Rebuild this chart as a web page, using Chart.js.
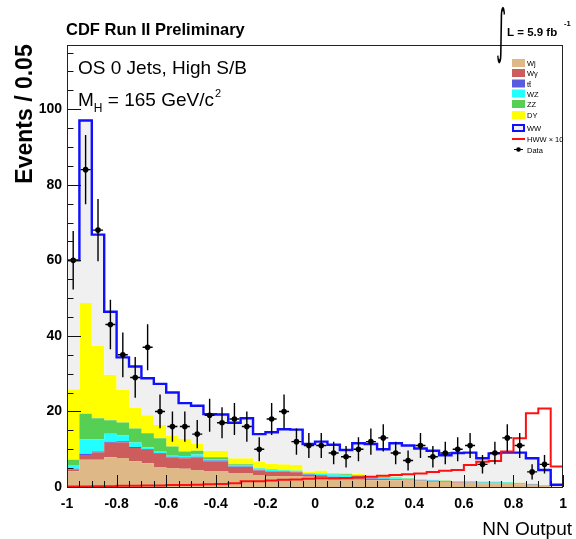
<!DOCTYPE html>
<html>
<head>
<meta charset="utf-8">
<script src="https://cdn.jsdelivr.net/npm/chart.js@4.4.1/dist/chart.umd.min.js"></script>
<style>
  html, body { margin: 0; padding: 0; background: #ffffff; }
  #wrap { position: relative; width: 576px; height: 539px; }
</style>
</head>
<body>
<div id="wrap"><canvas id="c" width="576" height="539"></canvas></div>
<script>
// NN output histogram: 40 bins of width 0.05 between -1 and 1
const xMin = -1;
const binWidth = 0.05;

// Background expectations per bin (events), stacked bottom to top
const wjets  = [4.2,7.2,7.2,7.9,7.7,6.8,6.3,5.3,5.0,4.8, 4.5,4.1,4.1,3.6,3.6,3.2,2.9,2.9,2.9,2.7, 2.6,1.9,1.9,1.9,1.8,1.8,1.8,1.7,1.5,1.4, 1.3,1.1,1.1,1.0,1.0,0.9,0.7,0.5,0.3,0.05];
const wgamma = [0.4,1.3,1.9,3.8,4.1,3.5,3.5,3.5,2.8,2.8, 3.3,2.7,2.7,1.7,1.7,1.2,1.1,1.1,1.0,0.5, 0.5,0.7,0.6,0.5,0.4,0.3,0.2,0.2,0.2,0.2, 0.15,0.15,0.1,0.1,0.1,0.1,0.1,0.1,0.1,0.05];
const ttbar  = [0.2,0.3,0.3,0.3,0.3,0.3,0.2,0.2,0.2,0.2, 0.2,0.2,0.2,0.1,0.1,0.1,0.1,0.1,0.1,0.1, 0.1,0.1,0.1,0.1,0.1,0.1,0.1,0.1,0.05,0.05, 0.05,0.05,0.05,0.05,0.05,0.05,0.05,0.05,0.02,0.0];
const wz     = [1.0,3.8,3.2,2.1,1.5,1.2,0.5,0.5,0.3,0.4, 0.6,0.4,0.4,0.4,0.4,0.4,0.4,0.3,0.3,0.3, 0.3,0.6,0.6,0.5,0.3,0.2,0.2,0.2,0.15,0.15, 0.1,0.1,0.15,0.15,0.15,0.15,0.15,0.1,0.08,0.02];
const zz     = [1.4,6.8,5.6,3.6,3.5,3.7,3.7,3.4,2.4,1.2, 1.0,0.5,0.5,0.2,0.2,0.1,0.1,0.1,0.1,0.1, 0.1,0.2,0.2,0.2,0.2,0.2,0.2,0.1,0.1,0.1, 0.1,0.1,0.1,0.1,0.1,0.1,0.1,0.1,0.05,0.02];
const dy     = [18.7,29.3,19.1,12.0,8.6,5.5,4.8,3.5,2.8,3.4, 1.8,1.7,1.7,1.6,1.6,1.7,1.5,1.5,1.5,0.4, 0.8,0.3,0.3,0.3,0.3,0.3,0.3,0.2,0.1,0.1, 0.1,0.1,0.1,0.1,0.1,0.1,0.1,0.05,0.05,0.01];
const ww     = [34.1,48.3,29.5,16.7,8.6,10.9,9.8,10.9,11.5,9.4, 10.1,9.7,9.6,9.4,10.6,7.3,8.4,9.3,9.3,7.3, 7.6,7.4,6.1,8.1,8.3,7.1,8.8,8.5,8.1,7.6, 6.6,7.4,7.5,6.1,7.4,7.7,7.9,6.7,3.9,0.45];

// Higgs signal (mH = 165 GeV/c^2) scaled by 10
const hwwx10 = [0.1,0.1,0.2,0.2,0.3,0.3,0.4,0.4,0.5,0.5, 0.6,0.7,0.8,1.0,1.5,1.5,1.7,1.9,2.0,2.2, 2.3,2.3,2.4,2.6,2.7,3.0,3.2,3.4,3.6,4.0, 4.3,4.5,5.8,6.7,6.9,9.4,12.9,19.5,20.8,5.4];

// Observed events per bin
const observed = [60,84,68,43,35,29,37,20,16,16, 14,19,17,18,16,10,18,20,12,11, 11,9,8,10,12,13,9,7,11,8, 9,10,11,6,9,13,11,4,6,0];

// Axis ticks
const xTickValues = [-1,-0.8,-0.6,-0.4,-0.2,0,0.2,0.4,0.6,0.8,1];
const xTickLabels = ['-1','-0.8','-0.6','-0.4','-0.2','0','0.2','0.4','0.6','0.8','1'];
const yTickValues = [0,20,40,60,80,100];
const yTickLabels = ['0','20','40','60','80','100'];

// Legend entries, top to bottom
const legendLabels = ['Wj','W\u03B3','tt\u0304','WZ','ZZ','DY','WW','HWW \u00D7 10','Data'];

// ---- drawing setup ----
const FONT = '"Liberation Sans", Arial, Helvetica, sans-serif';
const nBins = observed.length;

const stackDefs = [
  { label: 'Wjets', values: wjets,  color: '#deb887' },
  { label: 'Wgamma', values: wgamma, color: '#cd5c5c' },
  { label: 'ttbar', values: ttbar,  color: '#5a5ae0' },
  { label: 'WZ',    values: wz,     color: '#22ffff' },
  { label: 'ZZ',    values: zz,     color: '#55d055' },
  { label: 'DY',    values: dy,     color: '#ffff00' },
  { label: 'WW',    values: ww,     color: '#f0f0f0' }
];

// bin edges as step-line points (last value repeated at upper edge)
function stepPoints(perBin) {
  const pts = [];
  for (let i = 0; i <= nBins; i++) {
    pts.push({ x: xMin + i * binWidth, y: perBin[Math.min(i, nBins - 1)] });
  }
  return pts;
}

const datasets = [];
let running = new Array(nBins).fill(0);
stackDefs.forEach((s, k) => {
  running = running.map((v, i) => v + s.values[i]);
  const isWW = s.label === 'WW';
  datasets.push({
    label: s.label,
    data: stepPoints(running.slice()),
    stepped: 'before',
    fill: k === 0 ? 'origin' : k - 1,
    backgroundColor: s.color,
    borderColor: isWW ? '#1010ff' : 'transparent',
    borderWidth: isWW ? 2.4 : 0,
    pointRadius: 0,
    order: isWW ? 2 : 10
  });
});

datasets.push({
  label: 'HWW x 10',
  data: stepPoints(hwwx10),
  stepped: 'before',
  fill: false,
  borderColor: '#ff1010',
  borderWidth: 2,
  pointRadius: 0,
  order: 1
});

const dataIndex = datasets.length;
const dataPoints = [];
observed.forEach((n, i) => {
  if (n > 0) dataPoints.push({ x: xMin + (i + 0.5) * binWidth, y: n });
});
datasets.push({
  label: 'Data',
  data: dataPoints,
  showLine: false,
  pointRadius: 2.8,
  pointHoverRadius: 2.8,
  pointBackgroundColor: '#000000',
  pointBorderColor: '#000000',
  pointBorderWidth: 0,
  order: 0
});

const decor = {
  id: 'decor',
  beforeDraw(chart) {
    const ctx = chart.ctx;
    ctx.save();
    ctx.fillStyle = '#ffffff';
    ctx.fillRect(0, 0, chart.width, chart.height);
    ctx.restore();
  },
  beforeDatasetDraw(chart, args) {
    if (args.index !== dataIndex) return;
    // Poisson error bars on observed counts
    const ctx = chart.ctx;
    const ys = chart.scales.y;
    ctx.save();
    ctx.strokeStyle = '#000000';
    ctx.lineWidth = 1.4;
    args.meta.data.forEach((pt, i) => {
      const n = dataPoints[i].y;
      const e = Math.sqrt(n);
      const yHi = ys.getPixelForValue(n + e);
      const yLo = ys.getPixelForValue(Math.max(0, n - e));
      ctx.beginPath();
      ctx.moveTo(pt.x, yHi); ctx.lineTo(pt.x, yLo);
      ctx.moveTo(pt.x - 5, pt.y); ctx.lineTo(pt.x + 5, pt.y);
      ctx.stroke();
    });
    ctx.restore();
  },
  afterDatasetsDraw(chart) {
    const ctx = chart.ctx;
    const a = chart.chartArea;
    const xs = chart.scales.x, ys = chart.scales.y;
    ctx.save();
    ctx.strokeStyle = '#111111';
    ctx.lineWidth = 1;
    // inward ticks: y every 5 (major every 20), x every 0.05 (major every 0.2)
    ctx.beginPath();
    for (let v = 0; v <= 115; v += 5) {
      const y = Math.round(ys.getPixelForValue(v)) + 0.5;
      const len = v % 20 === 0 ? 14 : 6.5;
      ctx.moveTo(a.left, y); ctx.lineTo(a.left + len, y);
    }
    for (let k = 0; k <= 40; k++) {
      const v = xMin + k * binWidth;
      const x = Math.round(xs.getPixelForValue(v)) + 0.5;
      const len = k % 4 === 0 ? 12 : 6;
      ctx.moveTo(x, a.bottom); ctx.lineTo(x, a.bottom - len);
    }
    ctx.stroke();
    // frame
    ctx.strokeStyle = '#222222';
    ctx.strokeRect(Math.round(a.left) + 0.5, Math.round(a.top) + 0.5,
                   Math.round(a.right - a.left) - 1, Math.round(a.bottom - a.top));
    ctx.restore();
  },
  afterDraw(chart) {
    const ctx = chart.ctx;
    ctx.save();
    ctx.fillStyle = '#000000';
    ctx.textBaseline = 'alphabetic';

    // header
    ctx.font = 'bold 16.5px ' + FONT;
    ctx.textAlign = 'left';
    ctx.fillText('CDF Run II Preliminary', 66, 35);

    // luminosity: tall thin integral sign
    ctx.save();
    ctx.translate(496, 51);
    ctx.scale(0.65, 1.95);
    ctx.font = '30px "DejaVu Sans"';
    ctx.fillText('\u222B', 0, 0);
    ctx.restore();
    ctx.font = 'bold 11.5px ' + FONT;
    ctx.fillText('L = 5.9 fb', 507, 36);
    ctx.font = 'bold 7.5px ' + FONT;
    ctx.fillText('-1', 564, 26);

    // channel description
    ctx.font = '19px ' + FONT;
    ctx.fillText('OS 0 Jets, High S/B', 78, 74);
    ctx.fillText('M', 78, 106);
    const w = ctx.measureText('M').width;
    ctx.font = '12px ' + FONT;
    ctx.fillText('H', 78 + w, 112);
    const wH = ctx.measureText('H').width;
    ctx.font = '19px ' + FONT;
    const rest = ' = 165 GeV/c';
    ctx.fillText(rest, 78 + w + wH, 106);
    const wr = ctx.measureText(rest).width;
    ctx.font = '11px ' + FONT;
    ctx.fillText('2', 78 + w + wH + wr + 1, 97);

    // axis titles
    ctx.font = '19px ' + FONT;
    ctx.textAlign = 'right';
    ctx.fillText('NN Output', 572, 535);

    ctx.save();
    ctx.translate(32, 114);
    ctx.rotate(-Math.PI / 2);
    ctx.textAlign = 'center';
    ctx.font = 'bold 23px ' + FONT;
    ctx.fillText('Events / 0.05', 0, 0);
    ctx.restore();

    // legend
    const rowY = [63, 73, 83.5, 93.5, 104, 115, 128, 139, 149.5];
    const sx = 512, sw = 13, sh = 8;
    ctx.textAlign = 'left';
    ctx.font = '7.5px ' + FONT;
    legendLabels.forEach((lab, i) => {
      const yc = rowY[i];
      if (i < 6) {
        ctx.fillStyle = stackDefs[i].color;
        ctx.fillRect(sx, yc - sh / 2, sw, sh);
      } else if (i === 6) {
        ctx.fillStyle = stackDefs[6].color;
        ctx.fillRect(sx, yc - sh / 2, sw, sh);
        ctx.strokeStyle = '#1010ff';
        ctx.lineWidth = 2;
        ctx.strokeRect(sx + 1, yc - sh / 2 + 1, sw - 2, sh - 2);
      } else if (i === 7) {
        ctx.strokeStyle = '#ff1010';
        ctx.lineWidth = 2;
        ctx.beginPath(); ctx.moveTo(sx, yc); ctx.lineTo(sx + sw, yc); ctx.stroke();
      } else {
        ctx.strokeStyle = '#000000';
        ctx.lineWidth = 1;
        ctx.beginPath(); ctx.moveTo(sx + 2, yc); ctx.lineTo(sx + sw - 2, yc); ctx.stroke();
        ctx.fillStyle = '#000000';
        ctx.beginPath(); ctx.arc(sx + sw / 2, yc, 2.3, 0, Math.PI * 2); ctx.fill();
      }
      ctx.fillStyle = '#000000';
      ctx.fillText(lab, sx + sw + 2, yc + 3);
    });
    ctx.restore();
  }
};

new Chart(document.getElementById('c'), {
  type: 'line',
  data: { datasets },
  options: {
    responsive: false,
    animation: false,
    events: [],
    layout: { padding: { left: 0, top: 45, right: 3, bottom: 0 } },
    plugins: { legend: { display: false }, tooltip: { enabled: false }, title: { display: false } },
    elements: { line: { tension: 0 } },
    scales: {
      x: {
        type: 'linear', min: -1, max: 1,
        grid: { display: false, drawTicks: false },
        border: { display: false },
        afterBuildTicks: (s) => { s.ticks = xTickValues.map(v => ({ value: v })); },
        afterFit: (s) => { s.height = 52; },
        ticks: {
          autoSkip: false, maxRotation: 0, padding: 9, color: '#000000',
          font: { family: FONT, size: 14, weight: 'bold' },
          callback: (v) => { const k = xTickValues.findIndex(t => Math.abs(t - v) < 1e-9); return k >= 0 ? xTickLabels[k] : ''; }
        }
      },
      y: {
        type: 'linear', min: 0, max: 117,
        grid: { display: false, drawTicks: false },
        border: { display: false },
        afterBuildTicks: (s) => { s.ticks = yTickValues.map(v => ({ value: v })); },
        afterFit: (s) => { s.width = 67; },
        ticks: {
          autoSkip: false, padding: 5, color: '#000000',
          font: { family: FONT, size: 14, weight: 'bold' },
          callback: (v) => { const k = yTickValues.indexOf(v); return k >= 0 ? yTickLabels[k] : ''; }
        }
      }
    }
  },
  plugins: [decor]
});
</script>
</body>
</html>
